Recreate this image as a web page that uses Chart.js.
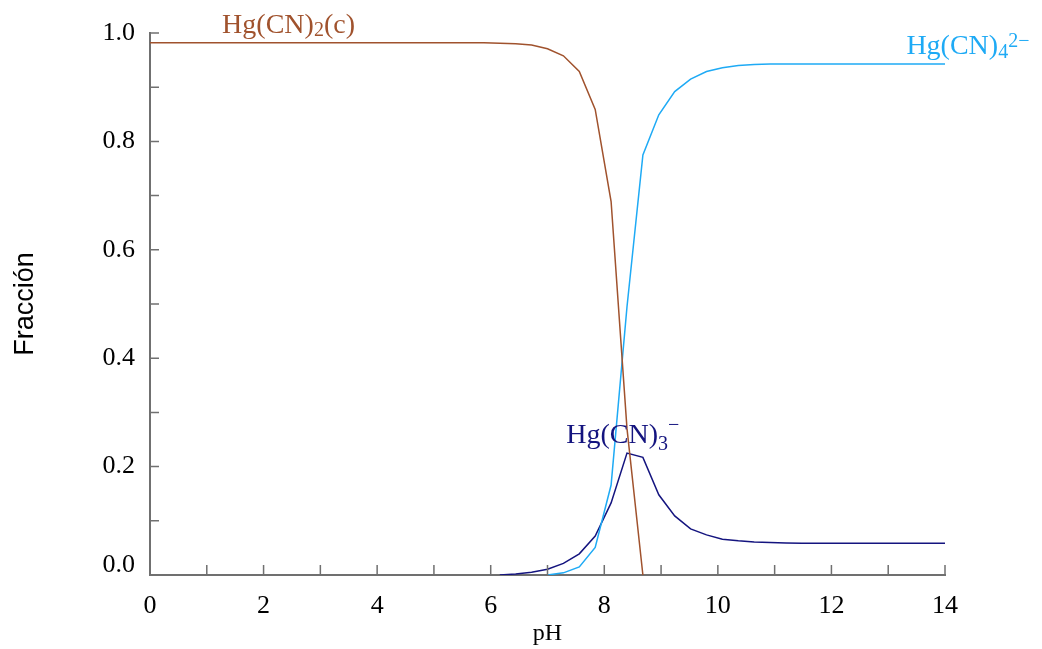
<!DOCTYPE html>
<html>
<head>
<meta charset="utf-8">
<script src="https://cdn.jsdelivr.net/npm/chart.js@4.4.1/dist/chart.umd.min.js"></script>
<style>
  html, body { margin: 0; padding: 0; background: #fff; }
</style>
</head>
<body>
<canvas id="speciesChart" width="1042" height="649"></canvas>
<script>
// pH grid of the calculation (0 to 14)
const pHValues = [0, 0.28, 0.56, 0.84, 1.12, 1.4, 1.68, 1.96, 2.24, 2.52, 2.8, 3.08, 3.36, 3.64, 3.92,
  4.2, 4.48, 4.76, 5.04, 5.32, 5.6, 5.88, 6.16, 6.44, 6.72, 7.0, 7.28, 7.56, 7.84, 8.12, 8.4, 8.68,
  8.96, 9.24, 9.52, 9.8, 10.08, 10.36, 10.64, 10.92, 11.2, 11.48, 11.76, 12.04, 12.32, 12.6, 12.88,
  13.16, 13.44, 13.72, 14.0];

// Hg(CN)2(c) - solid
const solidFraction = [0.982, 0.982, 0.982, 0.982, 0.982, 0.982, 0.982, 0.982, 0.982, 0.982, 0.982,
  0.982, 0.982, 0.982, 0.982, 0.982, 0.982, 0.982, 0.982, 0.982, 0.982, 0.982,
  0.981, 0.980, 0.978, 0.971, 0.958, 0.929, 0.859, 0.689, 0.27, 0.0,
  null, null, null, null, null, null, null, null, null, null, null, null, null, null, null, null, null, null, null];

// Hg(CN)4 2-
const tetraFraction = [null, null, null, null, null, null, null, null, null, null, null, null, null,
  null, null, null, null, null, null, null, null, null, null, null, null,
  0.0, 0.004, 0.015, 0.051, 0.166, 0.495, 0.775, 0.849, 0.892, 0.915, 0.929, 0.936, 0.940, 0.942,
  0.943, 0.943, 0.943, 0.943, 0.943, 0.943, 0.943, 0.943, 0.943, 0.943, 0.943, 0.943];

// Hg(CN)3 -
const triFraction = [null, null, null, null, null, null, null, null, null, null, null, null, null,
  null, null, null, null, null, null, null, null, null,
  0.0, 0.002, 0.005, 0.0105, 0.0215, 0.039, 0.072, 0.133, 0.225, 0.217, 0.148, 0.109, 0.085, 0.074,
  0.066, 0.063, 0.061, 0.060, 0.059,
  0.0585, 0.0585, 0.0585, 0.0585, 0.0585, 0.0585, 0.0585, 0.0585, 0.0585, 0.0585];

const brown = "#a0522d";
const skyBlue = "#1eaaf5";
const navy = "#14147f";
const axisColor = "#707070";
const serif = "'Liberation Serif', 'Times New Roman', serif";
const tickFont = "26px " + serif;

// species labels: text pieces [text, baseline shift, small?]
const labelParts = [
  [["Hg(CN)", 0, false], ["2", 3, true], ["(c)", 0, false]],
  [["Hg(CN)", 0, false], ["4", 4, true], ["2\u2212", -7, true]],
  [["Hg(CN)", 0, false], ["3", 7, true], ["\u2212", -12, true]]
];
const labelX = [1.27, 13.32, 7.33];
const labelY = [1.0, 0.962, 0.2435];
const labelColors = [brown, skyBlue, navy];

function toPoints(values) {
  return pHValues.map((x, i) => ({ x: x, y: values[i] }));
}

// ticks pointing into the plot area, and the lifted "0.0" label
const innerTicks = {
  id: "innerTicks",
  afterDatasetsDraw(chart) {
    const { ctx, chartArea, scales: { x, y } } = chart;
    ctx.save();
    ctx.strokeStyle = axisColor;
    ctx.lineWidth = 1.5;
    ctx.beginPath();
    x.ticks.forEach(t => {
      const px = x.getPixelForValue(t.value);
      ctx.moveTo(px, chartArea.bottom);
      ctx.lineTo(px, chartArea.bottom - 10);
    });
    y.ticks.forEach(t => {
      const py = y.getPixelForValue(t.value);
      ctx.moveTo(chartArea.left, py);
      ctx.lineTo(chartArea.left + 9, py);
    });
    ctx.stroke();

    ctx.fillStyle = "#000";
    ctx.font = tickFont;
    ctx.textAlign = "right";
    ctx.textBaseline = "middle";
    ctx.fillText((0).toFixed(1), chartArea.left - 15, y.getPixelForValue(0) - 10);
    ctx.restore();
  }
};

const speciesLabels = {
  id: "speciesLabels",
  afterDraw(chart) {
    const { ctx, scales: { x, y } } = chart;
    ctx.save();
    ctx.textBaseline = "alphabetic";
    labelParts.forEach((parts, i) => {
      let px = x.getPixelForValue(labelX[i]);
      const py = y.getPixelForValue(labelY[i]);
      ctx.fillStyle = labelColors[i];
      parts.forEach(([text, shift, small]) => {
        ctx.font = (small ? 20 : 28) + "px " + serif;
        ctx.fillText(text, px, py + shift);
        px += ctx.measureText(text).width;
      });
    });
    ctx.restore();
  }
};

const lineStyle = { borderWidth: 1.5, pointRadius: 0, tension: 0, fill: false, spanGaps: false };

new Chart(document.getElementById("speciesChart"), {
  type: "line",
  data: {
    datasets: [
      { label: "Hg(CN)2(c)", data: toPoints(solidFraction), borderColor: brown, ...lineStyle },
      { label: "Hg(CN)4 2-", data: toPoints(tetraFraction), borderColor: skyBlue, ...lineStyle },
      { label: "Hg(CN)3 -", data: toPoints(triFraction), borderColor: navy, ...lineStyle }
    ]
  },
  options: {
    responsive: false,
    animation: false,
    layout: { padding: { top: 33, right: 97, left: 0, bottom: 0 } },
    plugins: { legend: { display: false }, tooltip: { enabled: false } },
    scales: {
      x: {
        type: "linear",
        min: 0,
        max: 14,
        grid: { display: false, drawTicks: false },
        border: { color: axisColor, width: 2 },
        ticks: {
          stepSize: 1,
          autoSkip: false,
          maxRotation: 0,
          padding: 16,
          color: "#000",
          font: { family: serif, size: 26 },
          callback: v => (v % 2 === 0 ? String(v) : "")
        },
        title: {
          display: true,
          text: "pH",
          color: "#000",
          font: { family: serif, size: 24 },
          padding: { top: 0, bottom: 1 }
        },
        afterFit: scale => { scale.height = 74; }
      },
      y: {
        min: 0,
        max: 1,
        grid: { display: false, drawTicks: false },
        border: { color: axisColor, width: 2 },
        ticks: {
          stepSize: 0.1,
          autoSkip: false,
          padding: 15,
          color: "#000",
          font: { family: serif, size: 26 },
          callback: v => {
            const k = Math.round(v * 10);
            return k % 2 === 0 && k !== 0 ? v.toFixed(1) : "";
          }
        },
        title: {
          display: true,
          text: "Fracción",
          color: "#000",
          font: { family: "'Liberation Sans', Arial, sans-serif", size: 27 },
          padding: { top: 9, bottom: 0 }
        },
        afterFit: scale => { scale.width = 150; }
      }
    }
  },
  plugins: [innerTicks, speciesLabels]
});
</script>
</body>
</html>
